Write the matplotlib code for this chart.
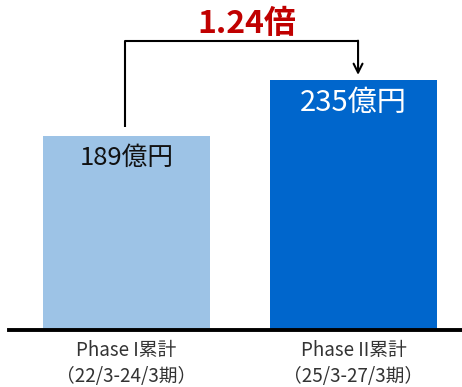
import matplotlib
matplotlib.use('Agg')
import matplotlib.pyplot as plt

plt.rcParams['font.family'] = ['Noto Sans CJK JP', 'DejaVu Sans']

# data
categories = ['Phase I累計\n（22/3-24/3期）', 'Phase II累計\n（25/3-27/3期）']
values = [189, 235]
value_labels = ['189億円', '235億円']
ratio_label = '1.24倍'
bar_colors = ['#9DC3E6', '#0066CC']
label_colors = ['#111111', 'white']

fig = plt.figure(figsize=(4.62, 3.87), dpi=100)
ax = fig.add_axes([9/462, 57/387, 453/462, 330/387])

x = list(range(len(values)))
ax.bar(x, values, width=0.735, color=bar_colors, bottom=0, zorder=2)
ax.set_xlim(-0.518, 1.478)
ax.set_ylim(30, 301)

# value labels inside bars
ax.text(x[0], values[0] - 18, value_labels[0], ha='center', va='center',
        fontsize=18.5, color=label_colors[0])
ax.text(x[1], values[1] - 18.5, value_labels[1], ha='center', va='center',
        fontsize=21, color=label_colors[1])

# bracket with arrow from bar 1 to bar 2
top = max(values) + 32
ax.plot([x[0] - 0.007, x[0] - 0.007, x[1] + 0.02], [values[0] + 8, top, top],
        color='black', lw=1.5, solid_capstyle='butt', zorder=3)
ax.annotate('', xy=(x[1] + 0.02, values[1] + 4.5), xytext=(x[1] + 0.02, top + 0.6),
            arrowprops=dict(arrowstyle='->', color='black', lw=1.5,
                            mutation_scale=16, shrinkA=0, shrinkB=0))
ax.text(0.53, top + 14, ratio_label, ha='center', va='center', fontsize=23,
        fontweight='bold', color='#C00000')

# axes styling
for s in ['top', 'right', 'left']:
    ax.spines[s].set_visible(False)
ax.spines['bottom'].set_linewidth(2.8)
ax.spines['bottom'].set_color('black')
ax.set_yticks([])
ax.set_xticks(x)
ax.set_xticklabels(categories, fontsize=13.5, color='#333333', linespacing=1.35)
ax.tick_params(axis='x', length=0, pad=7)

fig.savefig('out.png', dpi=100)
